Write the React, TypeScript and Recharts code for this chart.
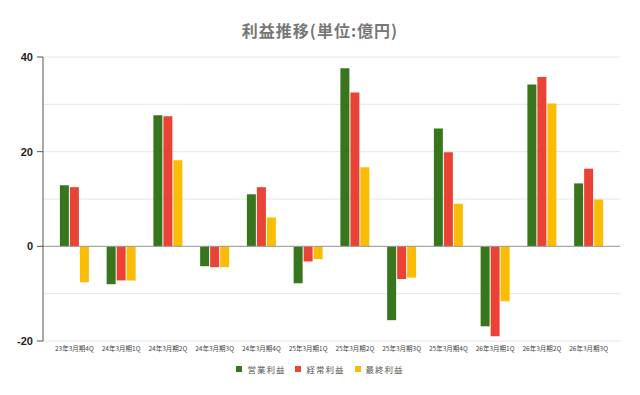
import { BarChart, Bar, XAxis, YAxis, CartesianGrid, Legend, ReferenceLine } from 'recharts';

const quarters = [
  '23年3月期4Q', '24年3月期1Q', '24年3月期2Q', '24年3月期3Q', '24年3月期4Q', '25年3月期1Q',
  '25年3月期2Q', '25年3月期3Q', '25年3月期4Q', '26年3月期1Q', '26年3月期2Q', '26年3月期3Q',
];
const operatingProfit = [12.9, -8.0, 27.7, -4.2, 11.0, -7.8, 37.6, -15.6, 24.9, -16.9, 34.2, 13.3];
const ordinaryProfit = [12.5, -7.2, 27.5, -4.4, 12.5, -3.2, 32.5, -6.9, 19.9, -19.0, 35.8, 16.4];
const netProfit = [-7.6, -7.2, 18.2, -4.4, 6.1, -2.7, 16.7, -6.6, 9.0, -11.6, 30.2, 9.9];
const seriesNames = ['営業利益', '経常利益', '最終利益'];
const seriesColors = ['#38761d', '#ea4335', '#fbbc04'];
const yTicks = [-20, -10, 0, 10, 20, 30, 40];

const data = quarters.map((q, i) => ({
  name: q,
  [seriesNames[0]]: operatingProfit[i],
  [seriesNames[1]]: ordinaryProfit[i],
  [seriesNames[2]]: netProfit[i],
}));

const font = '"Noto Sans CJK JP", "Noto Sans", sans-serif';

const YTick = (props: any) => {
  const { x, y, payload } = props;
  if (payload.value % 20 !== 0) return null;
  return (
    <g>
      <line x1={x + 2} x2={x + 8} y1={y} y2={y} stroke="#555" />
      <text x={x - 2} y={y} dy={4} textAnchor="end" fontSize={11} fontWeight={700} fill="#222" fontFamily="Arial, sans-serif">
        {payload.value}
      </text>
    </g>
  );
};

// legend in series order (recharts sorts by name otherwise)
const LegendContent = () => (
  <div style={{ display: 'flex', justifyContent: 'center', alignItems: 'center', height: 20, paddingLeft: 20, fontFamily: font }}>
    {seriesNames.map((n, i) => (
      <div key={n} style={{ display: 'flex', alignItems: 'center', marginLeft: i ? 10 : 0 }}>
        <div style={{ width: 6, height: 6, background: seriesColors[i], marginRight: 5 }} />
        <span style={{ fontSize: 8.5, letterSpacing: 1, color: '#555' }}>{n}</span>
      </div>
    ))}
  </div>
);

export default function App() {
  return (
    <div style={{ position: 'absolute', left: 0, top: 0, width: 640, height: 395, background: '#fff', fontFamily: font }}>
      <div style={{ position: 'absolute', top: 18, left: 0, width: 640, textAlign: 'center', fontSize: 16, letterSpacing: 1, fontWeight: 700, color: '#777' }}>
        利益推移(単位:億円)
      </div>
      <BarChart
        width={640}
        height={395}
        data={data}
        margin={{ top: 57, right: 20, left: 0, bottom: 14 }}
        barCategoryGap="19%"
        barGap={1}
      >
        <CartesianGrid vertical={false} stroke="#e6e6e6" />
        <XAxis
          dataKey="name"
          interval={0}
          height={20}
          padding={{ left: 8, right: 8 }}
          tickLine={false}
          axisLine={false}
          tick={{ fontSize: 6.5, fill: '#444', fontFamily: font, dy: -3 }}
        />
        <YAxis
          domain={[-20, 40]}
          ticks={yTicks}
          width={43}
          tickLine={false}
          axisLine={{ stroke: '#555' }}
          tick={<YTick />}
        />
        <ReferenceLine y={0} stroke="#999" />
        <Legend height={20} content={<LegendContent />} wrapperStyle={{ bottom: 16 }} />
        {seriesNames.map((n, i) => (
          <Bar key={n} dataKey={n} fill={seriesColors[i]} isAnimationActive={false} />
        ))}
      </BarChart>
    </div>
  );
}
